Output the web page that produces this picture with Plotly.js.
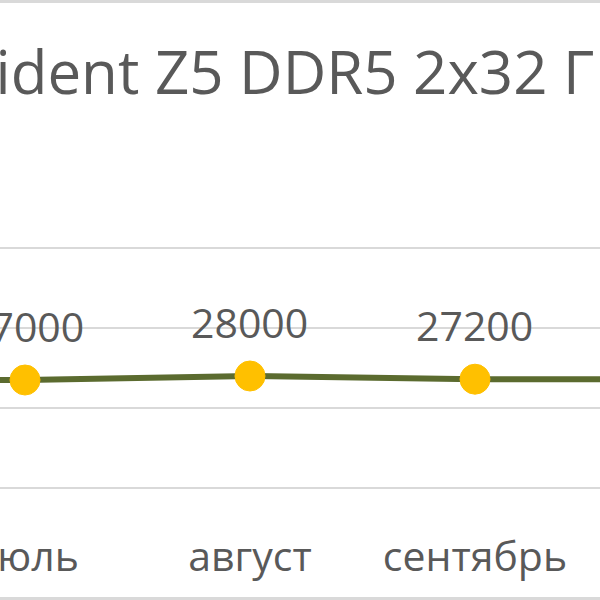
<!DOCTYPE html>
<html>
<head>
<meta charset="utf-8">
<script src="https://cdn.plot.ly/plotly-3.0.1.min.js"></script>
<style>
  html, body { margin: 0; padding: 0; background: #ffffff; }
  #graph { width: 600px; height: 600px; }
</style>
</head>
<body>
<div id="graph"></div>
<script>
// months around the visible part of the chart
const months = ['июнь', 'июль', 'август', 'сентябрь', 'октябрь'];
const prices = [27000, 27000, 28000, 27200, 27200];
const priceLabels = ['27000', '27000', '28000', '27200', '27200'];
const chartTitle = 'Trident Z5 DDR5 2x32 ГБ';

const textColor = '#595959';
const gridColor = '#d9d9d9';
const fontFamily = '"Open Sans", "Noto Sans", sans-serif';

let trace1 = {
    type: 'scatter',
    mode: 'lines+markers',
    x: months,
    y: prices,
    line: { color: '#5b6b2f', width: 6 },
    marker: { color: '#ffc000', size: 30, line: { color: '#ffc000', width: 1 } },
    hoverinfo: 'skip'
};

// data labels above each point
let labels = months.map((m, i) => ({
    x: m,
    y: prices[i],
    xref: 'x',
    yref: 'y',
    text: priceLabels[i],
    showarrow: false,
    yanchor: 'bottom',
    yshift: 24,
    font: { family: fontFamily, size: 41, color: textColor }
}));

// the chart is cropped, so the title starts left of the picture;
// an annotation can sit outside the paper, the layout title can not
labels.push({
    text: chartTitle,
    xref: 'paper',
    yref: 'paper',
    x: -0.106,
    xanchor: 'left',
    y: 1.304,
    yanchor: 'middle',
    showarrow: false,
    font: { family: fontFamily, size: 60, color: textColor }
});

let layout = {
    width: 600,
    height: 600,
    margin: { l: 0, r: 0, t: 168, b: 112, pad: 0 },
    paper_bgcolor: '#ffffff',
    plot_bgcolor: '#ffffff',
    showlegend: false,
    xaxis: {
        type: 'category',
        range: [0.8889, 3.5556],
        showgrid: false,
        zeroline: false,
        showline: false,
        ticks: '',
        ticklabelstandoff: 41,
        tickfont: { family: fontFamily, size: 41, color: textColor },
        fixedrange: true
    },
    yaxis: {
        range: [0, 80000],
        dtick: 20000,
        showticklabels: false,
        showgrid: true,
        gridcolor: gridColor,
        gridwidth: 2.5,
        zeroline: true,
        zerolinecolor: gridColor,
        zerolinewidth: 2.5,
        fixedrange: true
    },
    annotations: labels,
    shapes: [
        { type: 'line', xref: 'paper', yref: 'paper', x0: 0, x1: 1, y0: 1.5203, y1: 1.5203, line: { color: gridColor, width: 3 } },
        { type: 'line', xref: 'paper', yref: 'paper', x0: 0, x1: 1, y0: -0.3453, y1: -0.3453, line: { color: gridColor, width: 3 } }
    ]
};

Plotly.newPlot('graph', [trace1], layout, { displayModeBar: false, staticPlot: true });
</script>
</body>
</html>
